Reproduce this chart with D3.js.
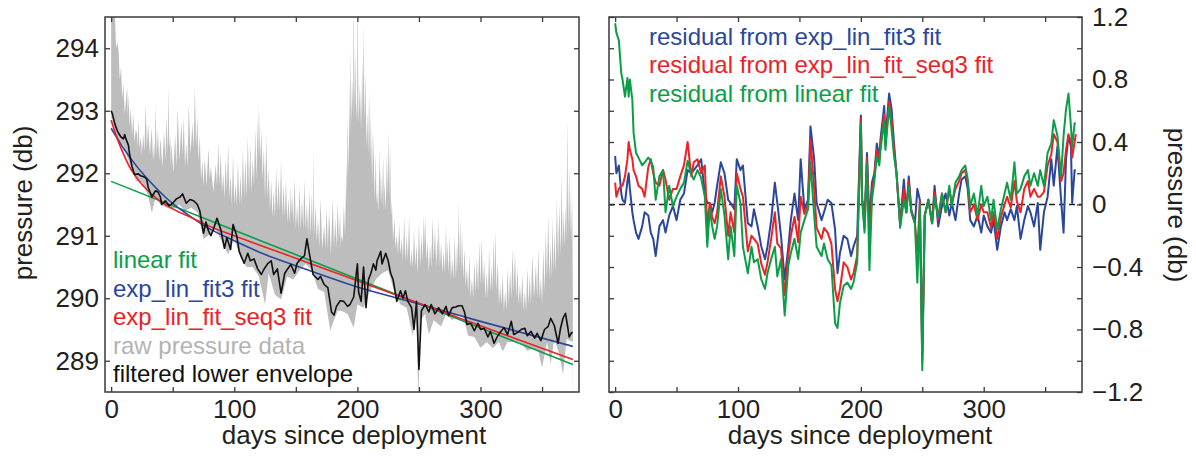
<!DOCTYPE html>
<html>
<head>
<meta charset="utf-8">
<script src="https://cdn.jsdelivr.net/npm/d3@7"></script>
<style>
  body { margin: 0; background: #fff; }
</style>
</head>
<body>
<svg id="chart" width="1196" height="458"></svg>
<script>
// === Colours ===
const COLOR_LINEAR = "#0b9e48";  // linear fit (green)
const COLOR_EXP3 = "#2b479b";    // exp_lin_fit3 (blue)
const COLOR_SEQ3 = "#ec2226";    // exp_lin_fit_seq3 (red)
const COLOR_RAW = "#bdbdbd";     // raw pressure (light gray)
const COLOR_ENV = "#111111";     // filtered lower envelope
const COLOR_INK = "#231f20";
const FONT = "'Liberation Sans', Arial, Helvetica, sans-serif";

// === Data ===
// [day, pressure (db)] upper edge of the raw record (peaks and the gaps between them)
const rawHigh = [
  [0, 294.9], [2, 294.9], [3, 294.6], [4, 294.0], [5, 294.1], [6, 293.96], [7, 293.5], [8, 293.7], [9, 293.2],
  [10, 293.43], [11, 292.95], [12, 293.17], [13, 293.38], [13.5, 292.9], [14, 293.27], [15, 292.75], [16, 293.06],
  [17, 292.6], [18, 292.95], [19, 292.5], [20, 292.7], [21, 292.64], [21.5, 292.4], [22, 292.89], [23, 292.4],
  [24, 292.6], [25, 292.3], [26, 292.63], [27, 292.35], [28, 293.11], [29, 292.4], [30, 292.8], [31.5, 292.3],
  [33, 292.73], [34, 292.2], [35, 292.5], [35.5, 292.2], [36, 293.11], [37, 292.3], [38, 292.7], [39, 292.2],
  [40, 292.57], [41.5, 292.1], [43, 292.68], [44, 292.2], [45, 292.9], [46, 292.3], [46.5, 293.39], [47.2, 292.4],
  [48, 292.6], [48.5, 292.1], [49, 292.47], [50.5, 292.0], [52, 292.63], [53, 292.1], [54, 293.04], [55.5, 292.2],
  [57, 292.84], [58, 292.3], [59, 292.9], [60, 292.1], [61, 292.5], [62, 292.1], [63, 293.11], [64.5, 292.3],
  [66, 292.8], [67, 292.4], [68, 293.38], [69, 292.4], [70, 292.89], [71, 292.2], [72, 292.6], [73, 291.9],
  [74, 292.2], [75, 291.8], [76, 292.25], [77.5, 291.8], [79, 292.41], [80, 291.9], [81, 292.1], [83, 291.7],
  [85, 292.15], [86, 291.8], [87, 292.5], [88, 291.8], [89, 292.36], [90, 291.7], [91, 292.0], [92, 291.6],
  [93, 292.25], [94, 291.7], [95, 292.47], [96, 291.6], [97, 291.99], [98, 291.5], [99, 292.3], [100, 291.5],
  [101, 291.83], [102, 291.5], [103, 292.2], [104, 291.5], [105, 291.99], [106, 291.5], [107, 292.4], [108, 291.6],
  [109, 292.25], [110, 291.6], [111, 292.6], [112, 291.7], [113, 292.47], [114, 291.7], [115, 292.25], [116, 291.8],
  [117, 292.7], [118, 291.9], [119, 292.9], [119.5, 292.2], [120, 293.11], [121, 292.2], [122, 292.68], [123, 291.9],
  [124, 292.4], [125, 291.6], [126, 292.6], [127, 291.6], [128, 292.09], [129, 291.4], [130, 291.9], [131, 291.3],
  [132, 291.72], [133, 291.3], [134, 292.1], [135, 291.4], [136, 291.93], [137, 291.4], [138, 292.2], [139, 291.3],
  [140, 291.83], [141, 291.3], [142, 291.9], [143, 291.2], [144, 291.61], [145, 291.2], [146, 291.8], [146.5, 291.3],
  [147, 291.67], [148, 291.2], [149, 291.95], [150, 291.1], [151, 291.5], [152, 291.1], [153, 291.8], [154, 291.1],
  [155, 291.61], [156, 291.1], [157, 291.9], [158, 291.1], [159, 291.5], [160, 291.0], [161, 291.75], [162, 291.0],
  [163, 291.67], [164, 291.0], [164.5, 292.39], [165, 291.0], [166, 291.5], [167, 290.9], [168, 291.29], [169, 290.8],
  [170, 291.6], [171.5, 290.8], [173, 291.18], [174, 290.8], [175, 291.45], [176, 290.8], [177, 291.4], [178.5, 290.7],
  [180, 291.6], [181, 290.8], [182, 291.29], [183, 290.8], [184, 291.55], [185, 290.9], [186, 291.4], [186.5, 290.8],
  [187, 291.02], [188, 290.9], [189, 291.5], [190, 291.0], [191, 292.2], [191.5, 291.5], [192, 292.89], [193, 292.0],
  [193.5, 293.5], [194, 292.5], [194.5, 293.96], [195.3, 292.8], [196, 293.5], [196.5, 292.9], [197, 294.9],
  [197.7, 293.0], [198.4, 293.96], [199, 292.8], [199.5, 293.2], [199.8, 292.9], [200, 294.9], [201, 292.8],
  [202, 293.43], [203, 292.7], [204, 293.8], [204.5, 292.9], [205, 294.39], [205.8, 292.8], [206.5, 293.6],
  [207.3, 292.4], [208, 293.0], [208.8, 292.3], [209.5, 293.3], [210.3, 292.2], [211, 293.0], [211.5, 292.0],
  [212, 292.7], [212.5, 291.8], [213, 292.63], [214, 291.6], [215, 292.3], [215.5, 291.5], [216, 291.72], [217, 291.4],
  [218, 292.4], [218.5, 291.5], [219, 292.09], [220, 291.5], [221, 292.3], [221.5, 291.4], [222, 291.88], [223, 291.4],
  [224, 292.3], [224.5, 291.6], [225, 292.68], [225.8, 291.6], [226.5, 292.5], [227.3, 291.3], [228, 291.56],
  [229, 290.9], [230, 291.3], [231, 290.8], [232, 291.02], [233, 290.7], [234, 291.2], [235, 290.7], [236, 290.97],
  [237, 290.6], [238, 291.3], [239, 290.6], [240, 291.02], [241, 290.6], [242, 291.3], [243, 290.5], [244, 290.76],
  [245, 290.5], [246, 291.1], [247, 290.5], [248, 290.86], [249, 290.4], [250, 291.2], [251, 290.5], [252, 291.02],
  [253, 290.6], [254, 291.35], [254.5, 290.8], [255, 291.34], [256, 290.6], [257, 290.9], [258, 290.4], [259, 290.86],
  [260, 290.5], [261, 291.3], [262, 290.6], [263, 291.13], [264, 290.5], [265, 291.0], [265.5, 290.6], [266, 291.29],
  [267, 290.5], [268, 290.9], [269, 290.4], [270, 290.76], [271, 290.4], [272, 291.2], [272.5, 290.5], [273, 290.92],
  [274, 290.4], [275, 291.0], [276, 290.3], [277, 290.65], [278, 290.3], [279, 291.0], [280, 290.3], [281, 290.9],
  [281.5, 290.4], [282, 291.59], [282.7, 290.5], [283.5, 291.3], [284.3, 290.4], [285, 291.08], [286, 290.3],
  [287, 290.8], [288, 290.2], [289, 290.49], [290, 290.1], [291, 290.7], [292, 290.0], [293, 290.33], [294, 290.0],
  [295, 290.6], [296, 290.1], [297, 290.65], [298, 290.1], [299, 290.9], [300, 290.2], [301, 290.97], [302, 290.2],
  [303, 290.6], [304, 290.0], [305, 290.44], [306, 290.0], [307, 290.8], [308, 290.1], [309, 290.54], [309.8, 290.1],
  [310.5, 291.0], [311.2, 290.2], [312, 291.08], [313, 290.1], [314, 290.6], [315, 289.9], [316, 290.22], [317, 289.9],
  [318, 290.4], [319, 289.8], [320, 290.12], [321, 289.8], [322, 290.5], [323, 289.9], [324, 290.44], [325, 290.0],
  [326, 290.8], [327, 290.1], [328, 290.76], [329, 290.0], [330, 290.5], [331, 289.9], [332, 290.22], [333, 289.9],
  [334, 290.4], [335, 289.8], [336, 290.12], [337, 289.8], [338, 290.5], [339, 289.9], [340, 290.38], [341, 289.9],
  [342, 290.7], [343.5, 290.0], [345, 290.54], [346, 290.0], [347, 290.8], [348, 290.0], [349, 290.33], [350, 289.9],
  [351, 290.8], [352, 290.1], [353, 291.08], [354, 290.3], [355, 291.34], [356, 290.3], [357, 290.9], [357.7, 290.3],
  [358.5, 291.3], [359.3, 290.4], [360, 291.08], [361, 290.4], [362, 291.6], [363, 290.6], [364, 291.5], [365, 290.7],
  [366, 291.99], [366.7, 290.8], [367.5, 291.4], [368.2, 290.8], [369, 291.5], [369.7, 290.9], [370.5, 292.89],
  [371.2, 291.0], [372, 292.09], [372.8, 291.0], [373.5, 291.8], [374, 290.9], [374.5, 291.61], [375, 290.0]
];

// [day, pressure] lower edge of the raw record
const rawLow = [
  [0, 292.9], [5, 292.55], [10, 292.45], [15, 292.15], [20, 291.88], [25, 291.85], [30, 291.65],
  [33, 291.37], [36, 291.6], [40, 291.5], [45, 291.45], [50, 291.42], [55, 291.5], [60, 291.4],
  [65, 291.45], [70, 291.38], [75, 290.95], [80, 291.02], [85, 291.1], [90, 290.9], [95, 290.7],
  [100, 290.95], [105, 290.65], [110, 290.5], [115, 290.5], [120, 290.35], [125, 289.9], [128, 290.4],
  [133, 290.06], [138, 289.98], [143, 290.35], [148, 290.3], [153, 290.45], [158, 290.55], [163, 290.45],
  [168, 290.15], [173, 290.1], [178, 289.48], [181, 289.65], [184, 289.8], [187, 289.8], [192, 289.75],
  [197, 289.53], [200, 289.9], [205, 289.85], [210, 290.1], [215, 290.3], [220, 290.4], [225, 290.45],
  [230, 290.1], [235, 289.9], [240, 289.85], [245, 289.4], [248, 289.8], [249.5, 288.3], [251, 289.65],
  [255, 289.75], [258, 289.42], [262, 289.65], [268, 289.55], [272, 289.75], [277, 289.65], [282, 289.75],
  [286, 289.7], [290, 289.4], [295, 289.38], [300, 289.21], [305, 289.3], [310, 289.2], [315, 289.3],
  [318, 289.15], [322, 289.3], [327, 289.3], [332, 289.3], [338, 289.16], [343, 289.2], [347, 289.15],
  [350, 288.89], [354, 289.3], [357, 288.95], [360, 289.35], [364, 289.1], [367, 288.78], [370, 289.35],
  [375, 289.3]
];

// [day, pressure] filtered lower envelope (black)
const envelope = [
  [0, 293.00], [1, 292.95], [3, 292.79], [5, 292.68], [6, 292.64], [8, 292.58], [10, 292.55], [11, 292.62],
  [12, 292.55], [14, 292.45], [15, 292.30], [17, 292.10], [19, 291.98], [22, 291.99], [24, 291.96],
  [27, 291.94], [29, 291.90], [30, 291.78], [33, 291.62], [36, 291.72], [38, 291.70], [40, 291.62],
  [41, 291.50], [44, 291.56], [47, 291.48], [50, 291.52], [53, 291.59], [56, 291.62], [58, 291.67],
  [61, 291.52], [64, 291.58], [67, 291.56], [70, 291.50], [72, 291.40], [75, 291.04], [77, 291.22],
  [79, 291.08], [81, 291.00], [83, 291.10], [86, 291.28], [89, 291.10], [92, 290.80], [94, 290.97],
  [97, 290.78], [99, 291.18], [102, 291.00], [104, 290.75], [108, 290.56], [111, 290.72], [113, 290.60],
  [116, 290.63], [119, 290.47], [122, 290.38], [124, 290.46], [127, 290.55], [130, 290.60], [132, 290.38],
  [135, 290.47], [138, 290.08], [141, 290.40], [143, 290.46], [146, 290.54], [149, 290.40], [151, 290.56],
  [154, 290.63], [157, 290.68], [159, 290.95], [162, 290.60], [164, 290.38], [168, 290.30], [170, 290.35],
  [173, 290.22], [176, 290.17], [179, 289.78], [181, 289.73], [183, 289.87], [186, 289.96], [189, 289.95],
  [192, 289.87], [194, 289.90], [197, 290.02], [200, 290.55], [201, 290.10], [203, 289.95], [205, 290.50],
  [207, 289.85], [209, 290.30], [211, 290.40], [213, 290.55], [215, 290.45], [216, 290.60], [219, 290.75],
  [220, 290.55], [223, 290.72], [225, 290.60], [227, 290.40], [229, 290.30], [232, 289.95], [235, 290.12],
  [237, 290.00], [239, 290.12], [241, 289.95], [244, 289.85], [246, 289.50], [248, 289.95], [250, 288.86],
  [252, 289.80], [255, 289.90], [258, 289.78], [260, 289.90], [263, 289.75], [266, 289.85], [269, 289.75],
  [272, 289.87], [274, 289.72], [277, 289.85], [280, 289.86], [282, 289.88], [285, 289.88], [287, 289.78],
  [289, 289.58], [292, 289.60], [295, 289.48], [298, 289.60], [300, 289.50], [303, 289.52], [306, 289.38],
  [308, 289.47], [311, 289.28], [314, 289.40], [317, 289.48], [319, 289.53], [322, 289.42], [325, 289.63],
  [327, 289.42], [330, 289.45], [333, 289.50], [336, 289.52], [338, 289.40], [341, 289.47], [344, 289.36],
  [346, 289.44], [349, 289.32], [352, 289.50], [355, 289.55], [357, 289.68], [360, 289.56], [363, 289.28],
  [365, 289.52], [367, 289.68], [369, 289.76], [371, 289.52], [372, 289.38], [374, 289.45], [375, 289.45]
];

// fitted curves [day, pressure]
const linearFit = [[0, 291.87], [375, 288.94]];
const expLinFit3 = [
  [0, 292.72], [10, 292.40], [20, 292.13], [30, 291.90], [45, 291.60], [60, 291.37], [80, 291.11],
  [100, 290.92], [125, 290.70], [150, 290.52], [200, 290.18], [250, 289.91], [300, 289.63], [375, 289.23]
];
const expLinFitSeq3 = [
  [0, 292.85], [5, 292.55], [10, 292.31], [15, 292.10], [20, 291.95], [25, 291.82], [30, 291.72],
  [40, 291.55], [50, 291.43], [65, 291.29], [80, 291.15], [100, 291.00], [150, 290.64], [200, 290.28],
  [250, 289.92], [300, 289.56], [375, 289.02]
];

// residuals (db), one value per entry of resDays
const resDays = [
  0, 1, 3, 5, 6, 8, 10, 11, 12, 14,
  15, 17, 19, 22, 24, 27, 29, 31, 33, 36,
  39, 41, 44, 47, 50, 53, 56, 59, 62, 64,
  67, 70, 73, 75, 77, 79, 81, 83, 86, 89,
  92, 94, 97, 99, 102, 104, 108, 111, 113, 116,
  119, 122, 124, 127, 130, 132, 135, 138, 141, 143,
  146, 149, 151, 154, 157, 159, 162, 164, 168, 170,
  173, 176, 179, 181, 183, 186, 189, 192, 194, 197,
  200, 201, 203, 205, 207, 209, 211, 213, 215, 216,
  219, 220, 223, 225, 227, 229, 232, 235, 237, 239,
  241, 244, 246, 248, 250, 252, 255, 258, 260, 263,
  266, 269, 272, 274, 277, 280, 282, 285, 287, 289,
  292, 295, 298, 300, 303, 306, 308, 311, 314, 317,
  319, 322, 325, 327, 330, 333, 336, 338, 341, 344,
  346, 349, 352, 355, 357, 360, 363, 365, 367, 369,
  371, 372, 374, 375
];
const resLinear = [
  1.16, 1.10, 1.05, 0.84, 0.80, 0.69, 0.81, 0.69, 0.80, 0.67,
  0.46, 0.33, 0.30, 0.25, 0.27, 0.30, 0.28, 0.24, 0.03, 0.18,
  0.22, -0.05, 0.12, -0.01, 0.05, 0.10, 0.14, 0.28, 0.19, 0.16,
  0.22, 0.17, 0.05, -0.27, -0.03, -0.14, -0.22, -0.14, 0.10, -0.07,
  -0.35, -0.14, -0.33, 0.12, 0.01, -0.27, -0.44, -0.27, -0.37, -0.35,
  -0.48, -0.54, -0.44, -0.35, -0.27, -0.46, -0.35, -0.71, -0.39, -0.31,
  -0.22, -0.35, -0.18, -0.10, -0.03, 0.27, -0.07, -0.27, -0.33, -0.25,
  -0.35, -0.39, -0.76, -0.79, -0.63, -0.52, -0.50, -0.54, -0.50, -0.37,
  0.52, 0.03, -0.18, 0.27, -0.42, 0.03, 0.15, 0.31, 0.25, 0.35,
  0.54, 0.35, 0.63, 0.48, 0.31, 0.20, -0.15, 0.03, -0.05, 0.12,
  -0.05, -0.12, -0.50, 0.00, -1.06, -0.07, 0.03, -0.12, 0.05, -0.08,
  0.07, -0.05, 0.12, -0.01, 0.14, 0.18, 0.22, 0.25, 0.16, -0.01,
  0.07, -0.07, 0.12, -0.01, 0.05, -0.10, 0.03, -0.16, -0.03, 0.07,
  0.14, 0.03, 0.27, 0.07, 0.10, 0.18, 0.22, 0.12, 0.20, 0.12,
  0.22, 0.12, 0.33, 0.39, 0.54, 0.44, 0.18, 0.44, 0.61, 0.71,
  0.50, 0.37, 0.52, 0.52
];
const resSeq3 = [
  0.14, 0.05, 0.10, 0.12, 0.12, 0.18, 0.29, 0.40, 0.35, 0.29,
  0.22, 0.18, 0.12, 0.10, 0.05, 0.24, 0.29, 0.20, 0.14, 0.12,
  0.22, 0.16, 0.03, 0.10, 0.10, 0.18, 0.25, 0.40, 0.18, 0.27,
  0.29, 0.20, 0.25, -0.15, 0.01, -0.08, -0.12, -0.05, 0.18, 0.05,
  -0.20, -0.05, -0.18, 0.20, 0.10, 0.05, -0.30, -0.20, -0.22, -0.25,
  -0.38, -0.45, -0.37, -0.22, -0.05, -0.25, -0.28, -0.58, -0.32, -0.20,
  -0.08, -0.24, 0.05, -0.06, 0.00, 0.42, 0.10, -0.15, -0.22, -0.15,
  -0.18, -0.25, -0.54, -0.62, -0.54, -0.37, -0.40, -0.48, -0.44, -0.33,
  0.55, 0.05, -0.15, 0.30, -0.25, 0.08, 0.18, 0.35, 0.28, 0.38,
  0.58, 0.38, 0.66, 0.55, 0.35, 0.20, -0.13, 0.10, -0.05, 0.15,
  -0.04, -0.12, -0.30, 0.02, -1.00, -0.07, 0.03, -0.12, 0.08, -0.10,
  0.07, -0.05, 0.10, 0.00, 0.10, 0.15, 0.20, 0.22, 0.14, -0.05,
  0.00, -0.10, 0.00, -0.05, -0.05, -0.15, -0.05, -0.22, -0.08, 0.00,
  0.05, -0.02, 0.15, 0.02, -0.05, 0.10, 0.15, 0.05, 0.10, 0.05,
  0.05, 0.08, 0.25, 0.32, 0.45, 0.40, 0.15, 0.20, 0.35, 0.45,
  0.40, 0.30, 0.40, 0.45
];
const resExp3 = [
  0.31, 0.20, 0.25, 0.07, 0.03, 0.01, 0.15, 0.20, 0.10, -0.05,
  -0.10, -0.18, -0.22, -0.14, -0.05, -0.07, -0.18, -0.22, -0.33, -0.14,
  -0.10, -0.18, -0.07, -0.01, -0.10, 0.03, 0.07, 0.22, 0.20, 0.22,
  0.25, 0.29, 0.07, 0.01, 0.01, -0.05, 0.01, 0.12, 0.27, 0.20,
  0.03, 0.01, -0.03, 0.29, 0.22, 0.25, -0.12, -0.14, -0.03, -0.14,
  -0.27, -0.35, -0.27, -0.10, 0.14, 0.01, -0.20, -0.48, -0.27, -0.10,
  0.07, -0.10, 0.29, -0.03, 0.03, 0.50, 0.29, 0.01, -0.10, -0.05,
  0.03, 0.01, -0.16, -0.44, -0.31, -0.20, -0.22, -0.33, -0.27, -0.20,
  0.57, 0.03, -0.10, 0.33, -0.12, 0.14, 0.20, 0.39, 0.30, 0.42,
  0.63, 0.42, 0.71, 0.61, 0.39, 0.20, -0.12, 0.16, -0.05, 0.18,
  -0.03, -0.12, 0.10, 0.03, -0.95, -0.07, 0.03, -0.12, 0.12, -0.14,
  -0.01, 0.07, -0.07, 0.01, -0.10, 0.07, 0.16, 0.18, 0.10, -0.10,
  -0.14, -0.07, -0.18, -0.07, -0.14, -0.18, -0.10, -0.29, -0.14, -0.05,
  -0.10, -0.03, -0.10, -0.01, -0.22, -0.10, -0.01, -0.05, -0.14, 0.01,
  -0.29, -0.05, 0.05, 0.29, 0.12, 0.37, 0.03, -0.18, 0.29, 0.44,
  0.37, 0.01, 0.22, 0.22
];

// ticks
const dayTicks = [0, 50, 100, 150, 200, 250, 300, 350];
const dayLabels = [0, 100, 200, 300];
const pressureTicks = [289, 290, 291, 292, 293, 294];
const residualTicks = [-1.2, -1.0, -0.8, -0.6, -0.4, -0.2, 0, 0.2, 0.4, 0.6, 0.8, 1.0, 1.2];
const residualLabels = [-1.2, -0.8, -0.4, 0, 0.4, 0.8, 1.2];

// legend entries
const leftLegend = [
  { text: "linear fit", color: COLOR_LINEAR },
  { text: "exp_lin_fit3 fit", color: COLOR_EXP3 },
  { text: "exp_lin_fit_seq3 fit", color: COLOR_SEQ3 },
  { text: "raw pressure data", color: "#b3b3b3" },
  { text: "filtered lower envelope", color: COLOR_ENV }
];
const rightLegend = [
  { text: "residual from exp_lin_fit3 fit", color: COLOR_EXP3 },
  { text: "residual from exp_lin_fit_seq3 fit", color: COLOR_SEQ3 },
  { text: "residual from linear fit", color: COLOR_LINEAR }
];

// === Layout ===
const svg = d3.select("#chart");
svg.append("rect").attr("width", 1196).attr("height", 458).attr("fill", "#fff");

const boxL = { x0: 105, x1: 579, y0: 17, y1: 392 };
const boxR = { x0: 609, x1: 1082, y0: 17, y1: 392 };

const xL = d3.scaleLinear().domain([-5, 380]).range([boxL.x0, boxL.x1]);
const yL = d3.scaleLinear().domain([288.5, 294.5]).range([boxL.y1, boxL.y0]);
const xR = d3.scaleLinear().domain([-5, 380]).range([boxR.x0, boxR.x1]);
const yR = d3.scaleLinear().domain([-1.2, 1.2]).range([boxR.y1, boxR.y0]);

const defs = svg.append("defs");
[["clipL", boxL], ["clipR", boxR]].forEach(([id, b]) => {
  defs.append("clipPath").attr("id", id).append("rect")
    .attr("x", b.x0).attr("y", b.y0).attr("width", b.x1 - b.x0).attr("height", b.y1 - b.y0);
});

// --- left panel ---
const gL = svg.append("g").attr("clip-path", "url(#clipL)");

// raw data: gray down to the bottom, then white below the lower edge
gL.append("path").datum(rawHigh)
  .attr("fill", COLOR_RAW)
  .attr("d", d3.area().x(d => xL(d[0])).y0(yL(288)).y1(d => yL(d[1])));
gL.append("path").datum(rawLow)
  .attr("fill", "#fff")
  .attr("d", d3.area().x(d => xL(d[0])).y0(yL(288)).y1(d => yL(d[1])));

const fitLine = d3.line().x(d => xL(d[0])).y(d => yL(d[1])).curve(d3.curveMonotoneX);
[[linearFit, COLOR_LINEAR], [expLinFit3, COLOR_EXP3], [expLinFitSeq3, COLOR_SEQ3]].forEach(([data, color]) => {
  gL.append("path").datum(data)
    .attr("fill", "none").attr("stroke", color).attr("stroke-width", 1.6)
    .attr("d", fitLine);
});
gL.append("path").datum(envelope)
  .attr("fill", "none").attr("stroke", COLOR_ENV).attr("stroke-width", 1.6)
  .attr("stroke-linejoin", "round")
  .attr("d", d3.line().x(d => xL(d[0])).y(d => yL(d[1])));

// --- right panel ---
const gR = svg.append("g").attr("clip-path", "url(#clipR)");
gR.append("line")
  .attr("x1", boxR.x0).attr("x2", boxR.x1).attr("y1", yR(0)).attr("y2", yR(0))
  .attr("stroke", "#222").attr("stroke-width", 1.4).attr("stroke-dasharray", "6,4");

const lineR = d3.line().x(d => xR(d[0])).y(d => yR(d[1]));
[[resExp3, COLOR_EXP3], [resSeq3, COLOR_SEQ3], [resLinear, COLOR_LINEAR]].forEach(([vals, color]) => {
  const pts = resDays.map((d, i) => [d, vals[i]]);
  gR.append("path").datum(pts)
    .attr("fill", "none").attr("stroke", color).attr("stroke-width", 2)
    .attr("stroke-linejoin", "round")
    .attr("d", lineR);
});

// --- legends ---
leftLegend.forEach((e, i) => {
  svg.append("text").attr("x", 113).attr("y", 268 + i * 28.5)
    .attr("font-family", FONT).attr("font-size", 24).attr("fill", e.color).text(e.text);
});
rightLegend.forEach((e, i) => {
  svg.append("text").attr("x", 649).attr("y", 45 + i * 28.4)
    .attr("font-family", FONT).attr("font-size", 24).attr("fill", e.color).text(e.text);
});

// --- axes: inward ticks on all four sides ---
function styleAxis(g) {
  g.select(".domain").remove();
  g.attr("font-family", FONT).attr("font-size", 26).style("color", COLOR_INK);
  g.selectAll(".tick line").attr("stroke", "#3a3a3a").attr("stroke-width", 1.3);
}

function drawAxes(x, y, box, yTicks, yFormat, labelsOnRight) {
  svg.append("g").attr("transform", `translate(0,${box.y1})`)
    .call(d3.axisBottom(x).tickValues(dayTicks).tickSize(-5).tickPadding(8)
      .tickFormat(d => dayLabels.includes(d) ? d : ""))
    .call(styleAxis);
  svg.append("g").attr("transform", `translate(0,${box.y0})`)
    .call(d3.axisTop(x).tickValues(dayTicks).tickSize(-5).tickFormat(""))
    .call(styleAxis);
  svg.append("g").attr("transform", `translate(${box.x0},0)`)
    .call(d3.axisLeft(y).tickValues(yTicks).tickSize(-5).tickPadding(6)
      .tickFormat(labelsOnRight ? "" : yFormat))
    .call(styleAxis);
  svg.append("g").attr("transform", `translate(${box.x1},0)`)
    .call(d3.axisRight(y).tickValues(yTicks).tickSize(-5).tickPadding(10)
      .tickFormat(labelsOnRight ? yFormat : ""))
    .call(styleAxis);
  svg.append("rect")
    .attr("x", box.x0).attr("y", box.y0)
    .attr("width", box.x1 - box.x0).attr("height", box.y1 - box.y0)
    .attr("fill", "none").attr("stroke", "#3a3a3a").attr("stroke-width", 1.5);
}

drawAxes(xL, yL, boxL, pressureTicks, d3.format("d"), false);
drawAxes(xR, yR, boxR, residualTicks, d => {
  const lab = residualLabels.some(v => Math.abs(v - d) < 1e-6);
  if (!lab) return "";
  return Math.abs(d) < 1e-6 ? "0" : d3.format(".1f")(d);
}, true);

// --- axis titles ---
function title(x, y, rot, txt) {
  svg.append("text")
    .attr("transform", `translate(${x},${y}) rotate(${rot})`)
    .attr("text-anchor", "middle")
    .attr("font-family", FONT).attr("font-size", 26).attr("fill", COLOR_INK)
    .text(txt);
}
title(354, 444, 0, "days since deployment");
title(860, 444, 0, "days since deployment");
title(32, 203, -90, "pressure (db)");
title(1168, 205, 90, "pressure (db)");
</script>
</body>
</html>
